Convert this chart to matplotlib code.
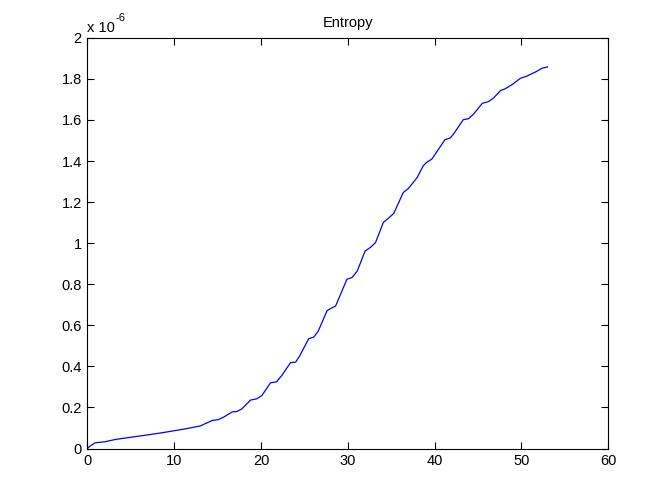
import matplotlib
matplotlib.use("Agg")
import matplotlib.pyplot as plt
from matplotlib.ticker import FuncFormatter

step = [0, 0.3, 0.9, 2.0, 3.2, 5.0, 6.7, 8.3, 9.9, 11.3, 13.0, 14.4, 15.1, 15.7,
        16.7, 17.2, 17.8, 18.8, 19.5, 20.1, 21.1, 21.8, 22.4, 23.4, 24.0, 24.5,
        25.5, 26.1, 26.6, 27.6, 28.0, 28.6, 29.9, 30.5, 31.1, 32.0, 32.6, 33.2,
        34.1, 34.7, 35.3, 36.4, 37.0, 38.0, 38.7, 39.1, 39.7, 41.2, 41.8, 42.2,
        43.3, 43.9, 44.5, 45.5, 46.2, 46.8, 47.6, 48.1, 48.9, 49.9, 50.6, 51.6,
        52.4, 52.9, 53.0]
entropy = [0, 0.012, 0.028, 0.033, 0.044, 0.055, 0.065, 0.075, 0.086, 0.096,
           0.110, 0.137, 0.141, 0.153, 0.179, 0.180, 0.193, 0.236, 0.242, 0.258,
           0.320, 0.325, 0.356, 0.418, 0.421, 0.454, 0.535, 0.543, 0.572, 0.670,
           0.681, 0.694, 0.824, 0.833, 0.865, 0.962, 0.979, 1.003, 1.101, 1.122,
           1.145, 1.247, 1.267, 1.320, 1.377, 1.394, 1.410, 1.504, 1.512, 1.532,
           1.601, 1.606, 1.629, 1.681, 1.689, 1.707, 1.743, 1.751, 1.771, 1.803,
           1.813, 1.833, 1.852, 1.857, 1.858]

x_ticks = [0, 10, 20, 30, 40, 50, 60]
y_ticks = [0, 0.2, 0.4, 0.6, 0.8, 1.0, 1.2, 1.4, 1.6, 1.8, 2.0]

plt.rcParams["font.family"] = ["Liberation Sans", "DejaVu Sans"]
plt.rcParams["font.size"] = 10.5

fig = plt.figure(figsize=(6.72, 5.04), dpi=100)
ax = fig.add_axes([0.13, 0.11, 0.775, 0.815])

ax.plot(step, entropy, color="#0000ff", linewidth=0.9)

ax.set_xlim(0, 60)
ax.set_ylim(0, 2)
ax.set_xticks(x_ticks)
ax.set_yticks(y_ticks)
ax.yaxis.set_major_formatter(FuncFormatter(lambda v, p: f"{v:g}"))
ax.tick_params(direction="in", length=5, width=0.8, top=True, right=True,
               labelsize=10.5, pad=4)
for sp in ax.spines.values():
    sp.set_linewidth(0.8)

ax.set_title("Entropy", fontsize=10.5, pad=8)
# exponent label in the MATLAB style
ax.text(0.0, 1.008, "x 10", transform=ax.transAxes, fontsize=10.5,
        ha="left", va="bottom")
ax.text(0.054, 1.037, "-6", transform=ax.transAxes, fontsize=8,
        ha="left", va="bottom")

fig.savefig("out.png", dpi=100)
